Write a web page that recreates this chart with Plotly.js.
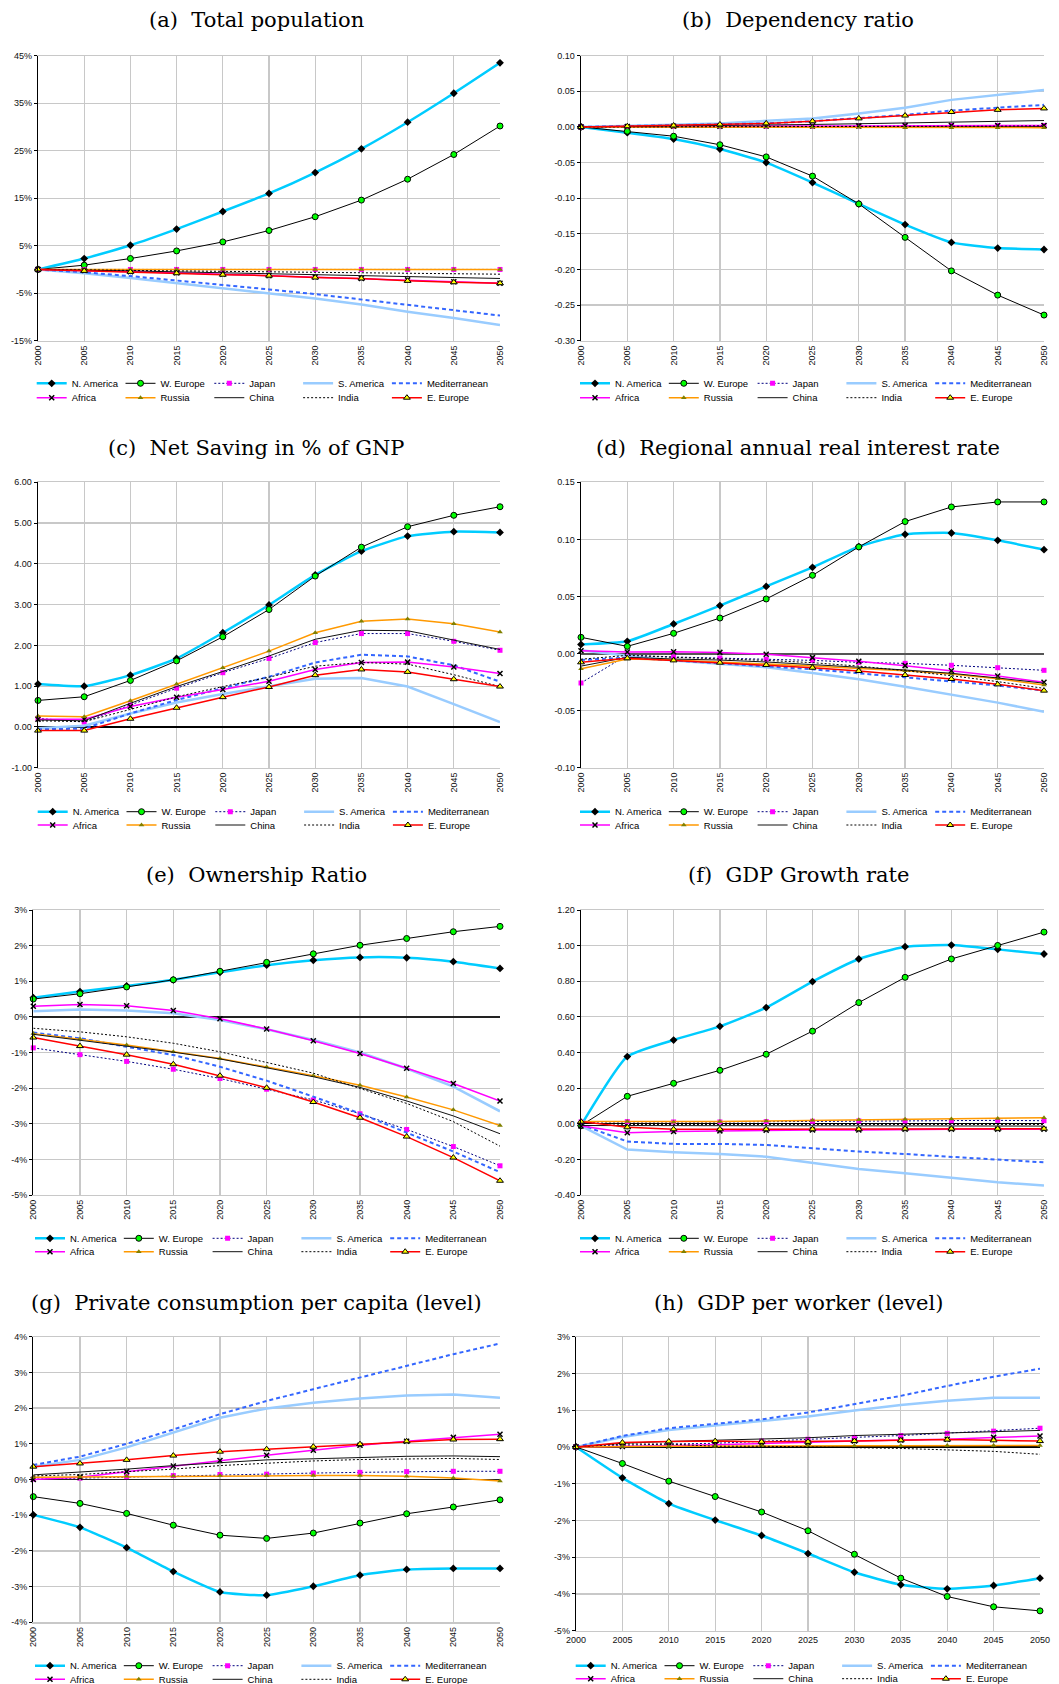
<!DOCTYPE html>
<html>
<head>
<meta charset="utf-8">
<script src="https://cdn.plot.ly/plotly-3.0.1.min.js"></script>
<style>
html,body{margin:0;padding:0;background:#fff;overflow:hidden;}
#chart{width:1059px;height:1684px;}
</style>
</head>
<body>
<div id="chart"></div>
<script>
// ---------------- DATA ----------------
const years = [2000,2005,2010,2015,2020,2025,2030,2035,2040,2045,2050];
const yearLabels = ['2000','2005','2010','2015','2020','2025','2030','2035','2040','2045','2050'];
const regions = ['N. America','W. Europe','Japan','S. America','Mediterranean','Africa','Russia','China','India','E. Europe'];

// (a) Total population (%)
const popNAm = [0,2.3,5.1,8.5,12.2,16.0,20.4,25.4,31.0,37.1,43.5];
const popWEu = [0,0.9,2.3,3.9,5.8,8.2,11.1,14.6,19.0,24.2,30.2];
const popJpn = [0,0,0,0,0,0,0,0,0,0,0];
const popSAm = [0,-0.8,-1.8,-2.9,-4.0,-5.0,-6.1,-7.4,-8.9,-10.2,-11.7];
const popMed = [0,-0.6,-1.4,-2.3,-3.3,-4.2,-5.2,-6.3,-7.4,-8.5,-9.7];
const popAfr = [0,-0.2,-0.5,-0.7,-1.0,-1.3,-1.6,-1.9,-2.2,-2.6,-2.9];
const popRus = [0,0,0,0,0,0,0,0,0,0,0];
const popChn = [0,-0.1,-0.3,-0.5,-0.7,-0.9,-1.1,-1.3,-1.5,-1.7,-1.9];
const popInd = [0,-0.1,-0.1,-0.2,-0.3,-0.4,-0.5,-0.6,-0.8,-0.9,-1.0];
const popEEu = [0,-0.3,-0.5,-0.8,-1.1,-1.3,-1.7,-1.9,-2.4,-2.7,-2.9];
const popTickVals = [-15,-5,5,15,25,35,45];
const popTickText = ['-15%','-5%','5%','15%','25%','35%','45%'];

// (b) Dependency ratio
const depNAm = [0,-0.008,-0.017,-0.031,-0.050,-0.078,-0.108,-0.137,-0.162,-0.170,-0.172];
const depWEu = [0,-0.006,-0.013,-0.025,-0.042,-0.069,-0.108,-0.155,-0.202,-0.236,-0.264];
const depJpn = [0,0.0005,0.001,0.001,0.001,0.001,0.0015,0.0015,0.002,0.002,0.002];
const depSAm = [0,0.001,0.003,0.005,0.008,0.012,0.019,0.027,0.038,0.045,0.052];
const depMed = [0,0.001,0.002,0.003,0.005,0.008,0.012,0.017,0.023,0.027,0.031];
const depAfr = [0,0.0005,0.001,0.001,0.0015,0.0015,0.0015,0.002,0.002,0.002,0.002];
const depRus = [0,0,0,0,0,-0.0005,-0.0005,-0.001,-0.001,-0.001,-0.001];
const depChn = [0,0.0005,0.001,0.002,0.003,0.0035,0.0045,0.0055,0.007,0.008,0.009];
const depInd = [0,0,0,0,0,0,0,0.0005,0.001,0.001,0.0015];
const depEEu = [0,0.001,0.002,0.0035,0.005,0.008,0.012,0.016,0.021,0.024,0.026];
const depTickVals = [-0.30,-0.25,-0.20,-0.15,-0.10,-0.05,0,0.05,0.10];
const depTickText = ['-0.30','-0.25','-0.20','-0.15','-0.10','-0.05','0.00','0.05','0.10'];

// (c) Net saving in % of GNP
const savNAm = [1.05,1.00,1.27,1.68,2.31,2.99,3.73,4.31,4.68,4.79,4.77];
const savWEu = [0.65,0.74,1.14,1.62,2.21,2.88,3.70,4.41,4.91,5.19,5.40];
const savJpn = [0.21,0.12,0.54,0.95,1.33,1.68,2.07,2.29,2.29,2.10,1.88];
const savSAm = [-0.03,0.03,0.33,0.60,0.81,0.99,1.18,1.20,0.99,0.56,0.12];
const savMed = [-0.06,-0.04,0.33,0.66,0.95,1.23,1.58,1.77,1.73,1.51,1.11];
const savAfr = [0.19,0.19,0.50,0.73,0.92,1.12,1.41,1.58,1.59,1.47,1.31];
const savRus = [0.27,0.25,0.64,1.05,1.45,1.86,2.31,2.59,2.65,2.53,2.33];
const savChn = [0.17,0.15,0.58,0.99,1.36,1.74,2.15,2.37,2.36,2.13,1.90];
const savInd = [0.15,0.13,0.43,0.74,0.99,1.22,1.49,1.58,1.54,1.28,0.99];
const savEEu = [-0.09,-0.09,0.20,0.47,0.73,0.98,1.27,1.41,1.35,1.17,0.99];
const savTickVals = [-1,0,1,2,3,4,5,6];
const savTickText = ['-1.00','0.00','1.00','2.00','3.00','4.00','5.00','6.00'];

// (d) Regional annual real interest rate
const intNAm = [0.008,0.0107,0.0259,0.042,0.0588,0.0755,0.0937,0.1044,0.1056,0.0992,0.091];
const intWEu = [0.0142,0.0063,0.0177,0.0311,0.0478,0.0685,0.0934,0.1156,0.1284,0.1328,0.1328];
const intJpn = [-0.0258,-0.0013,-0.003,-0.004,-0.005,-0.006,-0.0077,-0.0086,-0.0103,-0.0124,-0.0147];
const intSAm = [0.003,-0.002,-0.006,-0.009,-0.012,-0.017,-0.0226,-0.029,-0.0357,-0.043,-0.051];
const intMed = [-0.0057,-0.0036,-0.006,-0.0086,-0.011,-0.0138,-0.0173,-0.021,-0.0247,-0.028,-0.0325];
const intAfr = [0.0025,0.0013,0.0016,0.001,-0.0007,-0.0036,-0.0068,-0.0106,-0.015,-0.0197,-0.0252];
const intRus = [-0.0133,-0.0048,-0.0057,-0.0074,-0.0089,-0.0109,-0.013,-0.015,-0.018,-0.022,-0.0276];
const intChn = [-0.011,-0.0033,-0.0048,-0.0057,-0.0074,-0.0095,-0.012,-0.0144,-0.0173,-0.0214,-0.026];
const intInd = [-0.005,-0.0016,-0.0033,-0.0045,-0.006,-0.008,-0.011,-0.015,-0.0194,-0.0246,-0.0305];
const intEEu = [-0.0077,-0.0042,-0.006,-0.008,-0.010,-0.0124,-0.0153,-0.0188,-0.0223,-0.027,-0.0325];
const intTickVals = [-0.10,-0.05,0,0.05,0.10,0.15];
const intTickText = ['-0.10','-0.05','0.00','0.05','0.10','0.15'];

// (e) Ownership ratio (%)
const ownNAm = [0.54,0.71,0.87,1.04,1.25,1.45,1.59,1.67,1.66,1.55,1.36];
const ownWEu = [0.50,0.65,0.84,1.04,1.28,1.53,1.77,2.01,2.20,2.39,2.54];
const ownJpn = [-0.87,-1.06,-1.25,-1.47,-1.73,-2.03,-2.33,-2.72,-3.16,-3.64,-4.18];
const ownSAm = [0.16,0.21,0.18,0.10,-0.09,-0.35,-0.65,-1.00,-1.45,-1.96,-2.65];
const ownMed = [-0.44,-0.60,-0.84,-1.07,-1.40,-1.79,-2.24,-2.71,-3.25,-3.78,-4.36];
const ownAfr = [0.30,0.35,0.31,0.18,-0.05,-0.34,-0.67,-1.03,-1.44,-1.87,-2.36];
const ownRus = [-0.47,-0.62,-0.79,-0.98,-1.17,-1.41,-1.65,-1.92,-2.25,-2.61,-3.05];
const ownChn = [-0.49,-0.65,-0.81,-0.99,-1.18,-1.42,-1.68,-1.98,-2.36,-2.78,-3.28];
const ownInd = [-0.32,-0.42,-0.56,-0.74,-0.98,-1.27,-1.58,-2.01,-2.43,-2.94,-3.63];
const ownEEu = [-0.58,-0.82,-1.06,-1.33,-1.65,-1.99,-2.39,-2.83,-3.36,-3.95,-4.60];
const ownTickVals = [-5,-4,-3,-2,-1,0,1,2,3];
const ownTickText = ['-5%','-4%','-3%','-2%','-1%','0%','1%','2%','3%'];

// (f) GDP growth rate
const gdpNAm = [-0.01,0.377,0.47,0.547,0.652,0.798,0.925,0.994,1.003,0.979,0.953];
const gdpWEu = [-0.01,0.154,0.227,0.30,0.39,0.52,0.68,0.822,0.925,1.001,1.076];
const gdpJpn = [0.01,0.012,0.01,0.01,0.012,0.014,0.016,0.016,0.017,0.019,0.017];
const gdpSAm = [-0.012,-0.145,-0.16,-0.17,-0.185,-0.218,-0.254,-0.278,-0.305,-0.329,-0.347];
const gdpMed = [-0.005,-0.10,-0.113,-0.113,-0.119,-0.138,-0.156,-0.17,-0.185,-0.204,-0.217];
const gdpAfr = [-0.013,-0.05,-0.044,-0.04,-0.037,-0.035,-0.035,-0.031,-0.031,-0.031,-0.031];
const gdpRus = [0.012,0.012,0.008,0.012,0.016,0.019,0.023,0.025,0.027,0.029,0.034];
const gdpChn = [-0.01,-0.01,-0.012,-0.012,-0.012,-0.012,-0.013,-0.013,-0.013,-0.013,-0.013];
const gdpInd = [0.005,-0.004,-0.004,-0.004,-0.004,-0.004,-0.004,-0.004,-0.004,-0.004,-0.004];
const gdpEEu = [0.012,-0.02,-0.031,-0.031,-0.031,-0.031,-0.031,-0.028,-0.028,-0.028,-0.028];
const gdpTickVals = [-0.4,-0.2,0,0.2,0.4,0.6,0.8,1.0,1.2];
const gdpTickText = ['-0.40','-0.20','0.00','0.20','0.40','0.60','0.80','1.00','1.20'];

// (g) Private consumption per capita (level, %)
const conNAm = [-0.99,-1.34,-1.91,-2.58,-3.15,-3.24,-2.99,-2.68,-2.52,-2.49,-2.49];
const conWEu = [-0.48,-0.67,-0.95,-1.28,-1.56,-1.65,-1.50,-1.22,-0.96,-0.77,-0.57];
const conJpn = [0.01,0.04,0.08,0.11,0.14,0.15,0.18,0.20,0.22,0.23,0.23];
const conSAm = [0.36,0.55,0.90,1.31,1.73,1.99,2.15,2.27,2.35,2.38,2.29];
const conMed = [0.41,0.64,1.00,1.40,1.83,2.20,2.53,2.86,3.19,3.51,3.81];
const conAfr = [0.0,0.06,0.22,0.38,0.53,0.68,0.82,0.96,1.07,1.18,1.27];
const conRus = [0.06,0.07,0.09,0.10,0.11,0.11,0.11,0.11,0.09,0.04,-0.04];
const conChn = [0.13,0.20,0.29,0.39,0.48,0.55,0.58,0.62,0.65,0.66,0.64];
const conInd = [0.10,0.14,0.22,0.29,0.39,0.46,0.52,0.56,0.58,0.59,0.56];
const conEEu = [0.36,0.45,0.55,0.67,0.78,0.85,0.92,0.99,1.07,1.12,1.13];
const conTickVals = [-4,-3,-2,-1,0,1,2,3,4];
const conTickText = ['-4%','-3%','-2%','-1%','0%','1%','2%','3%','4%'];

// (h) GDP per worker (level, %)
const gpwNAm = [0,-0.84,-1.54,-1.99,-2.41,-2.90,-3.41,-3.75,-3.86,-3.77,-3.57];
const gpwWEu = [0,-0.45,-0.93,-1.35,-1.77,-2.28,-2.92,-3.57,-4.07,-4.35,-4.46];
const gpwJpn = [0,0.05,0.08,0.10,0.16,0.21,0.26,0.31,0.37,0.43,0.51];
const gpwSAm = [0,0.27,0.46,0.58,0.69,0.83,0.99,1.14,1.26,1.34,1.34];
const gpwMed = [0,0.30,0.51,0.64,0.75,0.94,1.16,1.39,1.66,1.91,2.13];
const gpwAfr = [0,0.01,0.03,0.06,0.10,0.12,0.16,0.19,0.21,0.26,0.30];
const gpwRus = [0,0.02,0.02,0.02,0.03,0.03,0.03,0.03,0.04,0.04,0.04];
const gpwChn = [0,0.10,0.15,0.18,0.21,0.25,0.31,0.35,0.39,0.43,0.45];
const gpwInd = [0,0.08,0.08,0.02,0.02,0.01,-0.02,-0.04,-0.08,-0.12,-0.20];
const gpwEEu = [0,0.12,0.15,0.16,0.14,0.14,0.16,0.18,0.20,0.18,0.16];
const gpwTickVals = [-5,-4,-3,-2,-1,0,1,2,3];
const gpwTickText = ['-5%','-4%','-3%','-2%','-1%','0%','1%','2%','3%'];

// ---------------- STYLES ----------------
const W = 1059, H = 1684;
const styles = [
  {mode:'lines+markers', line:{color:'#00CCFF', width:2.5, shape:'spline', smoothing:0.5}, marker:{symbol:'diamond', size:6, color:'#000'}},
  {mode:'lines+markers', line:{color:'#000000', width:1}, marker:{symbol:'circle', size:6, color:'#00FF00', line:{color:'#000', width:1}}},
  {mode:'lines+markers', line:{color:'#000080', width:1, dash:'2px,2px'}, marker:{symbol:'square', size:5, color:'#FF00FF'}},
  {mode:'lines', line:{color:'#99CCFF', width:2.5}},
  {mode:'lines', line:{color:'#3366FF', width:2, dash:'4px,3px'}},
  {mode:'lines+markers', line:{color:'#FF00FF', width:1.5}, marker:{symbol:'x-thin-open', size:5, color:'#000', line:{color:'#000', width:1.5}}},
  {mode:'lines+markers', line:{color:'#FF9900', width:1.5}, marker:{symbol:'triangle-up', size:5, color:'#808000'}},
  {mode:'lines', line:{color:'#111111', width:1}},
  {mode:'lines', line:{color:'#000000', width:1, dash:'2px,2px'}},
  {mode:'lines+markers', line:{color:'#FF0000', width:1.5}, marker:{symbol:'triangle-up', size:6, color:'#FFFF00', line:{color:'#000', width:1}}}
];

const panels = [
  {title:'(a)\u00a0 Total population', series:[popNAm,popWEu,popJpn,popSAm,popMed,popAfr,popRus,popChn,popInd,popEEu],
   tv:popTickVals, tt:popTickText, range:[-15,45], box:[38,55.7,500,340.7], tpos:[256,20], legX:71.7, legY:[383.3,397.7], angle:-90, zc:'#000', zw:1.2},
  {title:'(b)\u00a0 Dependency ratio', series:[depNAm,depWEu,depJpn,depSAm,depMed,depAfr,depRus,depChn,depInd,depEEu],
   tv:depTickVals, tt:depTickText, range:[-0.30,0.10], box:[581,55.7,1044,340.7], tpos:[798,20], legX:615, legY:[383.3,397.7], angle:-90, zc:'#000', zw:1.2},
  {title:'(c)\u00a0 Net Saving in % of GNP', series:[savNAm,savWEu,savJpn,savSAm,savMed,savAfr,savRus,savChn,savInd,savEEu],
   tv:savTickVals, tt:savTickText, range:[-1,6], box:[38,482.3,500,767.7], tpos:[256,448], legX:72.7, legY:[811.7,825], angle:-90, zc:'#000', zw:1.2},
  {title:'(d)\u00a0 Regional annual real interest rate', series:[intNAm,intWEu,intJpn,intSAm,intMed,intAfr,intRus,intChn,intInd,intEEu],
   tv:intTickVals, tt:intTickText, range:[-0.10,0.15], box:[581,482.3,1044,767.7], tpos:[798,448], legX:615, legY:[811.7,825], angle:-90, zc:'#555', zw:2},
  {title:'(e)\u00a0 Ownership Ratio', series:[ownNAm,ownWEu,ownJpn,ownSAm,ownMed,ownAfr,ownRus,ownChn,ownInd,ownEEu],
   tv:ownTickVals, tt:ownTickText, range:[-5,3], box:[33.3,910,500,1195], tpos:[256,875], legX:70, legY:[1238.3,1251.7], angle:-90, zc:'#222', zw:1.5},
  {title:'(f)\u00a0 GDP Growth rate', series:[gdpNAm,gdpWEu,gdpJpn,gdpSAm,gdpMed,gdpAfr,gdpRus,gdpChn,gdpInd,gdpEEu],
   tv:gdpTickVals, tt:gdpTickText, range:[-0.4,1.2], box:[581,910,1044,1195], tpos:[798,875], legX:615, legY:[1238.3,1251.7], angle:-90, zc:'#000', zw:1.2},
  {title:'(g)\u00a0 Private consumption per capita (level)', series:[conNAm,conWEu,conJpn,conSAm,conMed,conAfr,conRus,conChn,conInd,conEEu],
   tv:conTickVals, tt:conTickText, range:[-4,4], box:[33.3,1336.7,500,1622.3], tpos:[256,1303], legX:70, legY:[1665.7,1679.3], angle:-90, zc:'#222', zw:1.5},
  {title:'(h)\u00a0 GDP per worker (level)', series:[gpwNAm,gpwWEu,gpwJpn,gpwSAm,gpwMed,gpwAfr,gpwRus,gpwChn,gpwInd,gpwEEu],
   tv:gpwTickVals, tt:gpwTickText, range:[-5,3], box:[576,1336.7,1040,1630.7], tpos:[798,1303], legX:610.7, legY:[1665.7,1678.7], angle:0, zc:'#000', zw:1.2}
];

const tickFont = {family:'Liberation Sans, Arial, sans-serif', size:9, color:'#111'};
const legFont = {family:'Liberation Sans, Arial, sans-serif', size:9.5, color:'#000'};
const gridColor = '#c8c8c8';

const traces = [];
const layout = {
  width: W, height: H,
  margin: {l:0, r:0, t:0, b:0, pad:0, autoexpand:false},
  paper_bgcolor: '#ffffff',
  plot_bgcolor: '#ffffff',
  showlegend: true,
  annotations: []
};

panels.forEach((p, i) => {
  const n = i + 1;
  const xa = n === 1 ? 'x' : 'x' + n;
  const ya = n === 1 ? 'y' : 'y' + n;
  const l1 = (2*i+1) === 1 ? 'legend' : 'legend' + (2*i+1);
  const l2 = 'legend' + (2*i+2);

  p.series.forEach((vals, k) => {
    const st = JSON.parse(JSON.stringify(styles[k]));
    const tr = Object.assign({
      type: 'scatter', x: years, y: vals, name: regions[k],
      xaxis: xa, yaxis: ya, legend: k < 5 ? l1 : l2,
      cliponaxis: false, hoverinfo: 'skip'
    }, st);
    if (k === 4 || k === 9) tr.legendwidth = 80;
    traces.push(tr);
  });

  const [x0, y0, x1, y1] = p.box;
  layout['xaxis' + (n === 1 ? '' : n)] = {
    domain: [x0 / W, x1 / W], anchor: ya,
    range: [2000, 2050], tickmode: 'array', tickvals: years, ticktext: yearLabels,
    tickangle: p.angle, tickfont: tickFont, ticks: '',
    showgrid: true, gridcolor: gridColor, gridwidth: 1.2,
    showline: true, mirror: true, linecolor: gridColor, linewidth: 1.2,
    zeroline: false, fixedrange: true, automargin: false
  };
  layout['yaxis' + (n === 1 ? '' : n)] = {
    domain: [1 - y1 / H, 1 - y0 / H], anchor: xa,
    range: p.range, tickmode: 'array', tickvals: p.tv, ticktext: p.tt,
    tickfont: tickFont, ticks: 'outside', ticklen: 3, tickcolor: '#000', tickwidth: 1,
    showgrid: true, gridcolor: gridColor, gridwidth: 1.2,
    showline: true, linecolor: '#000', linewidth: 1.3,
    zeroline: true, zerolinecolor: p.zc, zerolinewidth: p.zw, fixedrange: true, automargin: false
  };

  [l1, l2].forEach((lid, r) => {
    layout[lid] = {
      orientation: 'h', x: (p.legX - 40) / W, xanchor: 'left',
      y: 1 - p.legY[r] / H, yanchor: 'middle',
      entrywidth: 43.8, entrywidthmode: 'pixels',
      font: legFont, bgcolor: 'rgba(0,0,0,0)', borderwidth: 0,
      itemclick: false, itemdoubleclick: false, tracegroupgap: 0
    };
  });

  layout.annotations.push({
    xref: 'paper', yref: 'paper', x: p.tpos[0] / W, y: 1 - p.tpos[1] / H,
    xanchor: 'center', yanchor: 'middle', showarrow: false, text: p.title,
    font: {family: 'DejaVu Serif, Liberation Serif, serif', size: 21, color: '#000'}
  });
});

Plotly.newPlot('chart', traces, layout, {staticPlot: true, displayModeBar: false});
</script>
</body>
</html>
